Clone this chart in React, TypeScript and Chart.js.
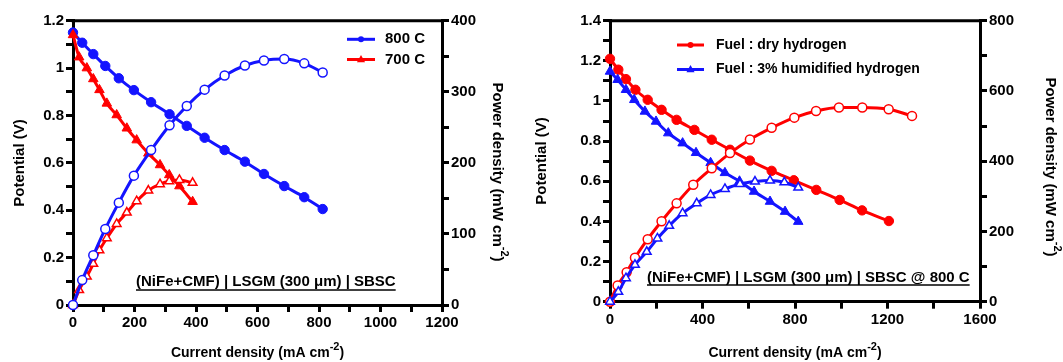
import React, { useEffect, useRef } from 'react';
import { Chart, registerables } from 'chart.js';

Chart.register(...registerables);

const FONT = '"Liberation Sans", Arial, Helvetica, sans-serif';
const BLUE = '#1414ff';
const RED = '#ff0000';

// ---------- Left panel: 800 C vs 700 C ----------
const I800 = [0, 30, 66, 105, 149, 198, 254, 314, 370, 428, 493, 559, 621, 687, 752, 812];
const V800 = [1.15, 1.107, 1.059, 1.009, 0.957, 0.907, 0.856, 0.805, 0.756, 0.706, 0.654, 0.605, 0.553, 0.502, 0.455, 0.405];
const P800 = [0, 35, 70, 107, 144, 182, 218, 253, 280, 303, 323, 337, 344, 346, 340, 327];

const I700 = [0, 20, 45, 66, 86, 110, 142, 175, 207, 245, 283, 313, 346, 389];
const V700 = [1.14, 1.046, 1.0, 0.954, 0.908, 0.851, 0.802, 0.746, 0.696, 0.64, 0.591, 0.549, 0.502, 0.436];
const P700 = [0, 21, 40, 58, 77, 94, 114, 130, 146, 161, 170, 174, 176, 172];

// ---------- Right panel: dry vs 3% humidified hydrogen ----------
const IDRY = [0, 36, 69, 110, 163, 223, 288, 365, 440, 519, 605, 699, 795, 892, 993, 1090, 1206];
const VDRY = [1.21, 1.156, 1.109, 1.056, 1.006, 0.956, 0.906, 0.856, 0.807, 0.757, 0.703, 0.652, 0.605, 0.557, 0.507, 0.455, 0.402];
const IDRY_P = [0, 33, 72, 108, 163, 223, 288, 360, 440, 519, 605, 699, 797, 891, 990, 1091, 1205, 1306];
const PDRY = [0, 46, 84, 125, 178, 229, 280, 333, 380, 423, 462, 495, 524, 543, 553, 553, 548, 529];

const IHUM = [0, 33, 69, 105, 151, 199, 252, 314, 372, 435, 497, 560, 623, 692, 757, 814];
const VHUM = [1.147, 1.106, 1.056, 1.006, 0.948, 0.898, 0.84, 0.79, 0.742, 0.692, 0.642, 0.6, 0.549, 0.499, 0.449, 0.399];
const IHUM_P = [0, 36, 69, 108, 159, 205, 256, 314, 375, 435, 497, 562, 627, 692, 754, 814];
const PHUM = [0, 28, 67, 105, 142, 180, 216, 252, 280, 304, 321, 335, 342, 345, 340, 325];

const LEFT_LEGEND = ['800 C', '700 C'];
const RIGHT_LEGEND = ['Fuel : dry hydrogen', 'Fuel : 3% humidified hydrogen'];
const LEFT_NOTE = '(NiFe+CMF) | LSGM (300 \u03bcm) | SBSC';
const RIGHT_NOTE = '(NiFe+CMF) | LSGM (300 \u03bcm) | SBSC @ 800 C';

const xy = (xs: number[], ys: number[]) => xs.map((x, i) => ({ x, y: ys[i] }));

type Part = { t: string; sup?: boolean };

function drawParts(ctx: CanvasRenderingContext2D, parts: Part[], size: number, align: 'left' | 'center') {
  const supSize = Math.round(size * 0.75);
  const widths = parts.map((p) => {
    ctx.font = `bold ${p.sup ? supSize : size}px ${FONT}`;
    return ctx.measureText(p.t).width;
  });
  const total = widths.reduce((a, b) => a + b, 0);
  let x = align === 'center' ? -total / 2 : 0;
  ctx.textAlign = 'left';
  ctx.textBaseline = 'middle';
  parts.forEach((p, i) => {
    ctx.font = `bold ${p.sup ? supSize : size}px ${FONT}`;
    ctx.fillText(p.t, x, p.sup ? -size * 0.45 : 0);
    x += widths[i];
  });
  return total;
}

type Decor = {
  yTitleX: number;
  yTitleY: number;
  y1TitleX: number;
  y1TitleY: number;
  xTitleY: number;
  titleSize: number;
  legend: { label: string; color: string; marker: 'circle' | 'triangle'; y: number }[];
  legendX1: number;
  legendX2: number;
  legendTextX: number;
  legendSize: number;
  note: string;
  noteX: number;
  noteY: number;
  noteLineY: number;
};

function makeDecor(d: Decor) {
  return {
    id: 'decor',
    afterDraw(chart: any) {
      const ctx: CanvasRenderingContext2D = chart.ctx;
      const a = chart.chartArea;
      ctx.save();
      // top frame line
      ctx.strokeStyle = '#000';
      ctx.lineWidth = 3;
      ctx.beginPath();
      ctx.moveTo(a.left - 1.5, a.top);
      ctx.lineTo(a.right + 1.5, a.top);
      ctx.stroke();

      ctx.fillStyle = '#000';
      // y title
      ctx.save();
      ctx.translate(d.yTitleX, d.yTitleY);
      ctx.rotate(-Math.PI / 2);
      drawParts(ctx, [{ t: 'Potential (V)' }], d.titleSize, 'center');
      ctx.restore();
      // y1 title
      ctx.save();
      ctx.translate(d.y1TitleX, d.y1TitleY);
      ctx.rotate(Math.PI / 2);
      drawParts(ctx, [{ t: 'Power density (mW cm' }, { t: '-2', sup: true }, { t: ')' }], d.titleSize, 'center');
      ctx.restore();
      // x title
      ctx.save();
      ctx.translate((a.left + a.right) / 2, d.xTitleY);
      drawParts(ctx, [{ t: 'Current density (mA cm' }, { t: '-2', sup: true }, { t: ')' }], 14, 'center');
      ctx.restore();

      // legend
      d.legend.forEach((it) => {
        ctx.strokeStyle = it.color;
        ctx.fillStyle = it.color;
        ctx.lineWidth = 3;
        ctx.beginPath();
        ctx.moveTo(d.legendX1, it.y);
        ctx.lineTo(d.legendX2, it.y);
        ctx.stroke();
        const cx = (d.legendX1 + d.legendX2) / 2;
        ctx.beginPath();
        if (it.marker === 'circle') {
          ctx.arc(cx, it.y, 3, 0, Math.PI * 2);
        } else {
          const r = 4.5;
          ctx.moveTo(cx, it.y - r);
          ctx.lineTo(cx - r * 0.9, it.y + r * 0.6);
          ctx.lineTo(cx + r * 0.9, it.y + r * 0.6);
          ctx.closePath();
        }
        ctx.fill();
        ctx.fillStyle = '#000';
        ctx.save();
        ctx.translate(d.legendTextX, it.y);
        drawParts(ctx, [{ t: it.label }], d.legendSize, 'left');
        ctx.restore();
      });

      // note with underline
      ctx.fillStyle = '#000';
      ctx.save();
      ctx.translate(d.noteX, d.noteY);
      const w = drawParts(ctx, [{ t: d.note }], 15, 'left');
      ctx.restore();
      ctx.strokeStyle = '#000';
      ctx.lineWidth = 1.5;
      ctx.beginPath();
      ctx.moveTo(d.noteX, d.noteLineY);
      ctx.lineTo(d.noteX + w, d.noteLineY);
      ctx.stroke();
      ctx.restore();
    },
  };
}

const tickFont = { family: FONT, size: 15, weight: 'bold' as const };
const gridOpts = { drawOnChartArea: false, drawTicks: true, tickLength: 7, color: '#000', lineWidth: 3 };
const borderOpts = { display: true, color: '#000', width: 3 };

function axis(min: number, max: number, step: number, labelEvery: number, decimals: boolean, position: string, fitSize: number, horizontal: boolean) {
  return {
    type: 'linear' as const,
    position,
    min,
    max,
    grid: gridOpts,
    border: borderOpts,
    title: { display: false },
    ticks: {
      stepSize: step,
      autoSkip: false,
      maxRotation: 0,
      padding: 2,
      color: '#000',
      font: tickFont,
      callback: (v: any) => {
        const n = Number(v);
        const k = Math.round(n / step);
        const every = Math.round(labelEvery / step);
        if (k % every !== 0) return '';
        return decimals ? String(Math.round(n * 10) / 10) : String(Math.round(n));
      },
    },
    afterFit: (s: any) => {
      if (horizontal) s.height = fitSize;
      else s.width = fitSize;
    },
  };
}

function lineDs(data: { x: number; y: number }[], color: string, style: 'circle' | 'triangle', filled: boolean, yAxisID: string, radius: number) {
  return {
    data,
    yAxisID,
    borderColor: color,
    backgroundColor: filled ? color : '#ffffff',
    pointBorderColor: color,
    pointBackgroundColor: filled ? color : '#ffffff',
    pointStyle: style,
    pointRadius: radius,
    pointBorderWidth: filled ? 1 : 1.5,
    borderWidth: 3,
    cubicInterpolationMode: 'monotone' as const,
    tension: 0.4,
    clip: false as any,
    fill: false,
  };
}

function ChartCanvas({ config, width, height, left }: { config: any; width: number; height: number; left: number }) {
  const ref = useRef<HTMLCanvasElement | null>(null);
  useEffect(() => {
    if (!ref.current) return;
    const chart = new Chart(ref.current, config);
    return () => chart.destroy();
  }, []);
  return (
    <canvas
      ref={ref}
      width={width}
      height={height}
      style={{ position: 'absolute', left, top: 0, width, height, display: 'block' }}
    />
  );
}

const leftConfig = {
  type: 'line',
  data: {
    datasets: [
      lineDs(xy(I800, P800), BLUE, 'circle', false, 'y1', 4.5),
      lineDs(xy(I700, P700), RED, 'triangle', false, 'y1', 5),
      lineDs(xy(I700, V700), RED, 'triangle', true, 'y', 5.5),
      lineDs(xy(I800, V800), BLUE, 'circle', true, 'y', 4.7),
    ],
  },
  options: {
    responsive: false,
    animation: false,
    devicePixelRatio: 1,
    layout: { padding: { top: 20.7, left: 0, right: 0, bottom: 0 } },
    plugins: { legend: { display: false }, tooltip: { enabled: false } },
    scales: {
      x: axis(0, 1200, 100, 200, false, 'bottom', 57, true),
      y: axis(0, 1.2, 0.1, 0.2, true, 'left', 73, false),
      y1: axis(0, 400, 50, 100, false, 'right', 88, false),
    },
  },
  plugins: [
    makeDecor({
      yTitleX: 20,
      yTitleY: 163,
      y1TitleX: 497,
      y1TitleY: 172,
      xTitleY: 353,
      titleSize: 15,
      legend: [
        { label: LEFT_LEGEND[0], color: BLUE, marker: 'circle', y: 39.3 },
        { label: LEFT_LEGEND[1], color: RED, marker: 'triangle', y: 59.5 },
      ],
      legendX1: 347,
      legendX2: 375,
      legendTextX: 385,
      legendSize: 15,
      note: LEFT_NOTE,
      noteX: 136,
      noteY: 282,
      noteLineY: 290,
    }),
  ],
};

const rightConfig = {
  type: 'line',
  data: {
    datasets: [
      lineDs(xy(IHUM_P, PHUM), BLUE, 'triangle', false, 'y1', 5),
      lineDs(xy(IDRY_P, PDRY), RED, 'circle', false, 'y1', 4.5),
      lineDs(xy(IHUM, VHUM), BLUE, 'triangle', true, 'y', 5.5),
      lineDs(xy(IDRY, VDRY), RED, 'circle', true, 'y', 4.7),
    ],
  },
  options: {
    responsive: false,
    animation: false,
    devicePixelRatio: 1,
    layout: { padding: { top: 20.7, left: 0, right: 0, bottom: 0 } },
    plugins: { legend: { display: false }, tooltip: { enabled: false } },
    scales: {
      x: axis(0, 1600, 200, 400, false, 'bottom', 60.3, true),
      y: axis(0, 1.4, 0.1, 0.2, true, 'left', 80, false),
      y1: axis(0, 800, 100, 200, false, 'right', 83, false),
    },
  },
  plugins: [
    makeDecor({
      yTitleX: 12,
      yTitleY: 161,
      y1TitleX: 520,
      y1TitleY: 167,
      xTitleY: 353,
      titleSize: 15,
      legend: [
        { label: RIGHT_LEGEND[0], color: RED, marker: 'circle', y: 45 },
        { label: RIGHT_LEGEND[1], color: BLUE, marker: 'triangle', y: 69.5 },
      ],
      legendX1: 147,
      legendX2: 174,
      legendTextX: 186,
      legendSize: 14,
      note: RIGHT_NOTE,
      noteX: 117,
      noteY: 277.5,
      noteLineY: 285,
    }),
  ],
};

export default function App() {
  return (
    <div style={{ position: 'absolute', left: 0, top: 0, width: 1063, height: 362, background: '#fff' }}>
      <ChartCanvas config={leftConfig} width={530} height={362} left={0} />
      <ChartCanvas config={rightConfig} width={533} height={362} left={530} />
    </div>
  );
}
